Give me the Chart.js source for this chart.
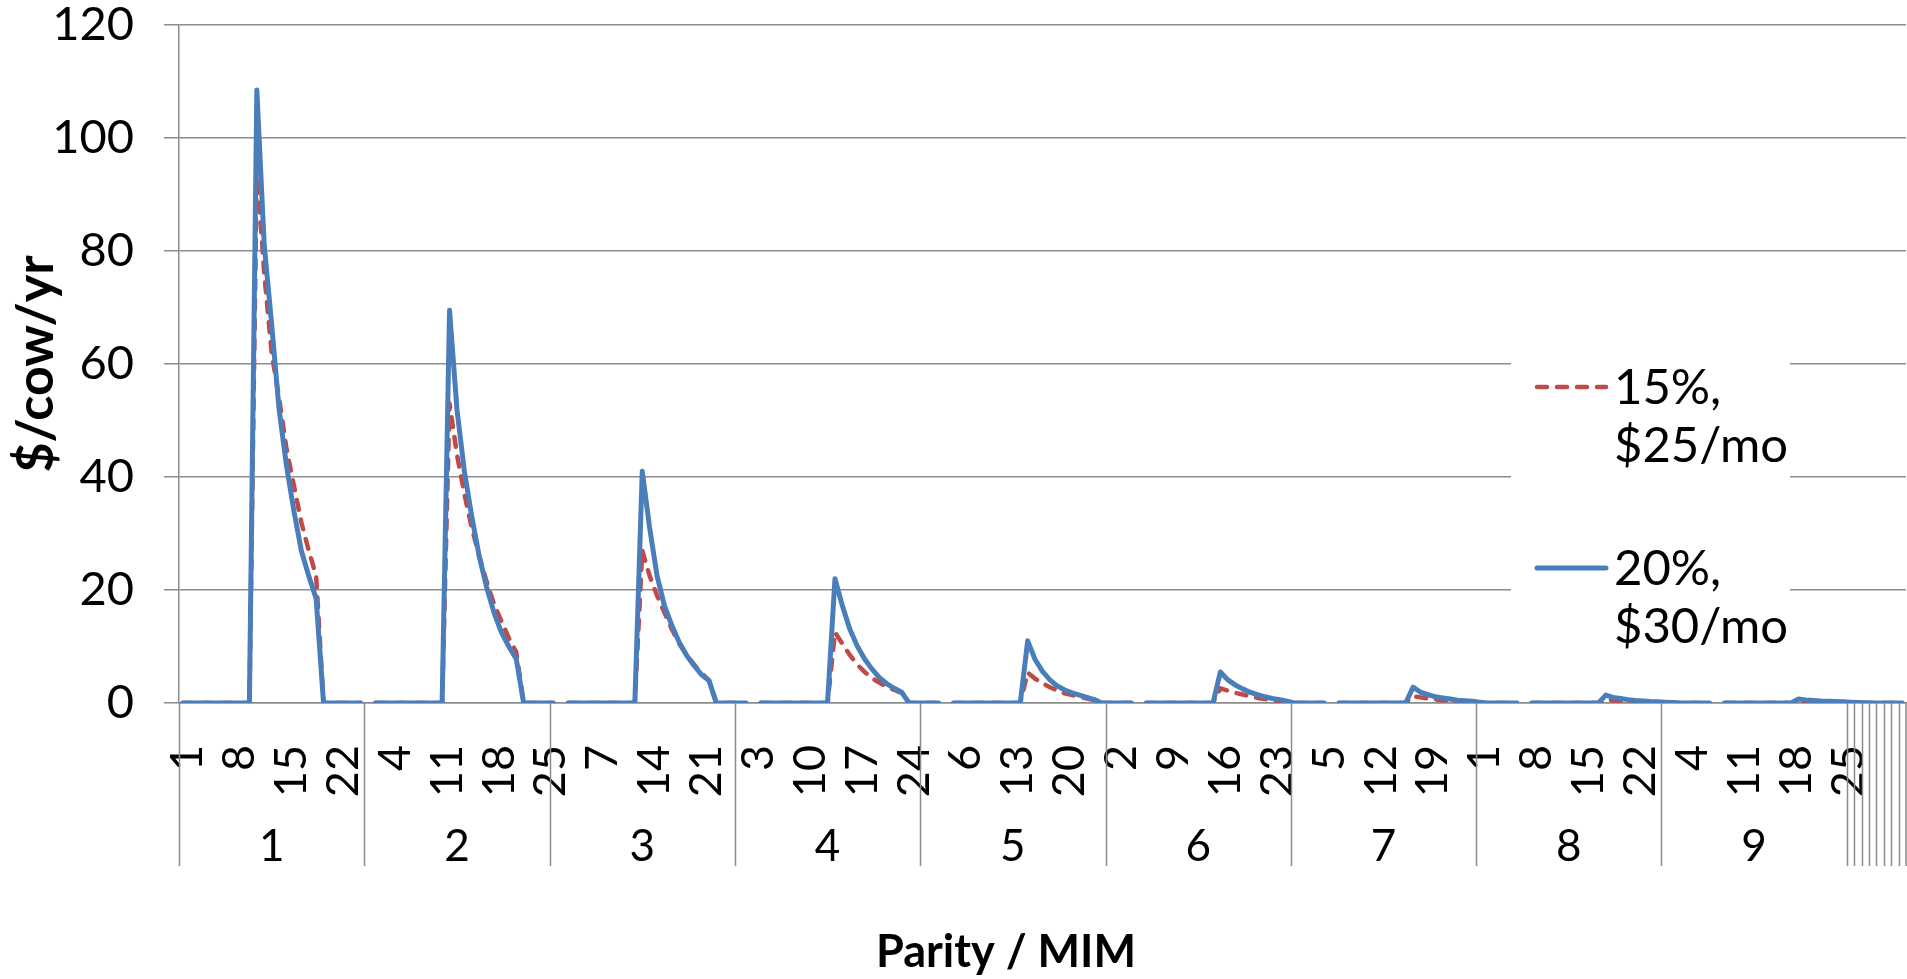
<!DOCTYPE html>
<html>
<head>
<meta charset="utf-8">
<script src="https://cdn.jsdelivr.net/npm/chart.js@4.4.0/dist/chart.umd.min.js"></script>
<style>
  html, body { margin: 0; padding: 0; background: #fff; }
  #wrap { width: 1907px; height: 979px; }
</style>
</head>
<body>
<div id="wrap"><canvas id="chart" width="1907" height="979"></canvas></div>
<script>
// parity groups on the lower axis, months in milk (MIM) on the upper one
const parities = ['1', '2', '3', '4', '5', '6', '7', '8', '9'];
const monthsPerParity = 25;
const blankSlots = 8;      // empty categories after parity 9
const tickEvery = 7;       // Excel shows every 7th MIM label

// $/cow/yr by MIM, one row per parity (15%, $25/mo)
const redRows = [
  [0,0,0,0,0,0,0,0,0,0, 95,76,62,54,45,38.5,32,27,22.5,0, 0,0,0,0,0],
  [0,0,0,0,0,0,0,0,0,0, 53,44,37,31,26,21.5,17.5,14.5,11.5,9, 0,0,0,0,0],
  [0,0,0,0,0,0,0,0,0,0, 27,22.5,19,16,13,10.5,8.5,6.8,5.3,4, 0,0,0,0,0],
  [0,0,0,0,0,0,0,0,0,0, 12.5,10.5,8.5,6.8,5.5,4.4,3.6,2.9,2.3,1.8, 0,0,0,0,0],
  [0,0,0,0,0,0,0,0,0,0, 5.4,4.3,3.5,2.8,2.2,1.7,1.4,1.1,0.8,0.5, 0,0,0,0,0],
  [0,0,0,0,0,0,0,0,0,0, 2.6,2.2,1.8,1.5,1.2,0.9,0.7,0.5,0.35,0.2, 0,0,0,0,0],
  [0,0,0,0,0,0,0,0,0,0, 1.2,1,0.8,0.65,0.5,0.4,0.3,0.2,0.15,0.1, 0,0,0,0,0],
  [0,0,0,0,0,0,0,0,0,0, 0.6,0.5,0.4,0.3,0.25,0.2,0.15,0.1,0.07,0.05, 0,0,0,0,0],
  [0,0,0,0,0,0,0,0,0,0, 0.3,0.25,0.2,0.15,0.12,0.1,0.08,0.06,0.04,0.02, 0,0,0,0,0]
];

// 20%, $30/mo
const blueRows = [
  [0,0,0,0,0,0,0,0,0,0, 108.5,81,67,52,42,34,27,22.5,18.5,0, 0,0,0,0,0],
  [0,0,0,0,0,0,0,0,0,0, 69.5,52,41,33,26,20.5,16,12.5,10,7.8, 0,0,0,0,0],
  [0,0,0,0,0,0,0,0,0,0, 41,31,22.5,17.2,13.7,10.7,8.4,6.6,5,4, 0,0,0,0,0],
  [0,0,0,0,0,0,0,0,0,0, 22,17.2,13.1,10.1,7.8,6,4.5,3.4,2.6,1.9, 0,0,0,0,0],
  [0,0,0,0,0,0,0,0,0,0, 11,7.7,5.6,4.1,3,2.3,1.8,1.4,1,0.6, 0,0,0,0,0],
  [0,0,0,0,0,0,0,0,0,0, 5.5,4.1,3.2,2.5,1.9,1.5,1.1,0.8,0.6,0.3, 0,0,0,0,0],
  [0,0,0,0,0,0,0,0,0,0, 2.8,1.9,1.5,1.1,0.9,0.7,0.5,0.4,0.3,0.15, 0,0,0,0,0],
  [0,0,0,0,0,0,0,0,0,0, 1.4,1,0.8,0.6,0.45,0.35,0.25,0.2,0.15,0.1, 0,0,0,0,0],
  [0,0,0,0,0,0,0,0,0,0, 0.7,0.55,0.45,0.35,0.3,0.25,0.2,0.15,0.1,0.05, 0,0,0,0,0]
];

const redLabel = ['15%,', '$25/mo'];
const blueLabel = ['20%,', '$30/mo'];
const xTitle = 'Parity / MIM';

const gridGray = '#8c8c8c';
const fontFamily = 'Lato, "Open Sans", sans-serif';

// category labels for both axis levels
const mimLabels = [];
const parityLabels = [];
parities.forEach(p => {
    for (let m = 1; m <= monthsPerParity; m++) {
        mimLabels.push(String(m));
        parityLabels.push(m === Math.ceil(monthsPerParity / 2) ? p : '');
    }
});
for (let i = 0; i < blankSlots; i++) {
    mimLabels.push('');
    parityLabels.push('');
}

// the sheet leaves an empty row after every parity, so the line breaks there
function buildSeries(rows) {
    const out = [];
    rows.forEach(r => { out.push(...r, null); });
    return out.slice(0, mimLabels.length);
}

// start of every group on the lower axis (each blank slot is its own group)
const groupStarts = [];
for (let i = 0; i <= parities.length * monthsPerParity; i += monthsPerParity) groupStarts.push(i);
for (let i = 1; i <= blankSlots; i++) groupStarts.push(parities.length * monthsPerParity + i);

const groupDividers = {
    id: 'groupDividers',
    afterDraw(chart) {
        const x = chart.scales.x;
        const x2 = chart.scales.x2;
        const c = chart.ctx;
        c.save();
        c.strokeStyle = gridGray;
        c.lineWidth = 1.5;
        c.beginPath();
        groupStarts.forEach(i => {
            const px = Math.min(Math.round(x.getPixelForValue(i - 0.5)) + 0.5, chart.width - 1);
            c.moveTo(px, x.top);
            c.lineTo(px, x2.top + 48);
        });
        c.stroke();
        // Excel centres the axis title a bit left of the plot centre
        c.fillStyle = '#000';
        c.font = 'bold 45px ' + fontFamily;
        c.textAlign = 'center';
        c.textBaseline = 'middle';
        c.fillText(xTitle, 1006, 952);
        c.restore();
    }
};

// Excel-style legend floating over the plot on a white box
const boxLegend = {
    id: 'boxLegend',
    afterDraw(chart) {
        const c = chart.ctx;
        const left = 1511, top = 338, width = 279, height = 322;
        const rowGap = 181, lineGap = 58;
        c.save();
        c.fillStyle = '#fff';
        c.fillRect(left, top, width, height);
        chart.data.datasets.forEach((ds, k) => {
            const y = 387 + k * rowGap;
            c.strokeStyle = ds.borderColor;
            c.lineWidth = ds.borderWidth;
            c.lineCap = 'round';
            c.setLineDash(ds.borderDash || []);
            c.beginPath();
            c.moveTo(left + 26, y);
            c.lineTo(left + 95, y);
            c.stroke();
            c.setLineDash([]);
            c.fillStyle = '#000';
            c.font = '49px ' + fontFamily;
            c.textBaseline = 'alphabetic';
            ds.label.forEach((t, j) => c.fillText(t, left + 103, y + 17 + j * lineGap));
        });
        c.restore();
    }
};

const ctx = document.getElementById('chart').getContext('2d');

new Chart(ctx, {
    type: 'line',
    data: {
        labels: mimLabels,
        datasets: [
            {
                label: redLabel,
                data: buildSeries(redRows),
                borderColor: '#be4b48',
                borderWidth: 4.5,
                borderDash: [10, 10],
                borderCapStyle: 'round',
                borderJoinStyle: 'round',
                pointRadius: 0,
                tension: 0,
                order: 2
            },
            {
                label: blueLabel,
                data: buildSeries(blueRows),
                borderColor: '#4a7ebb',
                borderWidth: 5,
                borderCapStyle: 'round',
                borderJoinStyle: 'round',
                pointRadius: 0,
                tension: 0,
                order: 1
            }
        ]
    },
    options: {
        responsive: false,
        animation: false,
        spanGaps: false,
        layout: { padding: { top: 25, right: 1, left: 0, bottom: 0 } },
        plugins: {
            legend: { display: false },
            tooltip: { enabled: false }
        },
        scales: {
            x: {
                type: 'category',
                offset: true,
                weight: 0,
                grid: { display: false, drawTicks: false },
                border: { color: gridGray, width: 1.5 },
                ticks: {
                    autoSkip: false,
                    minRotation: 90,
                    maxRotation: 90,
                    padding: 42,
                    labelOffset: 5,
                    color: '#000',
                    font: { family: fontFamily, size: 45 },
                    callback: (v, i) => (i % tickEvery === 0 ? mimLabels[i] : '')
                },
                afterFit(scale) {
                    scale.height = 115;
                    scale.paddingLeft = 0;
                    scale.paddingRight = 0;
                }
            },
            x2: {
                type: 'category',
                labels: parityLabels,
                position: 'bottom',
                offset: true,
                weight: 1,
                grid: { display: false, drawTicks: false },
                border: { display: false },
                ticks: {
                    autoSkip: false,
                    minRotation: 0,
                    maxRotation: 0,
                    padding: 2,
                    color: '#000',
                    font: { family: fontFamily, size: 44 }
                },
                afterFit(scale) {
                    scale.height = 161;
                    scale.paddingLeft = 0;
                    scale.paddingRight = 0;
                }
            },
            y: {
                min: 0,
                max: 120,
                ticks: {
                    stepSize: 20,
                    padding: 30,
                    color: '#000',
                    font: { family: fontFamily, size: 47 }
                },
                grid: { color: gridGray, lineWidth: 1.5, tickLength: 15 },
                border: { color: gridGray, width: 1.5 },
                title: {
                    display: true,
                    text: '$/cow/yr',
                    color: '#000',
                    font: { family: fontFamily, size: 52, weight: 'bold' },
                    padding: { top: 5, bottom: 0 }
                },
                afterFit(scale) {
                    scale.width = 179;
                    scale.paddingTop = 0;
                    scale.paddingBottom = 0;
                }
            }
        }
    },
    plugins: [groupDividers, boxLegend]
});
</script>
</body>
</html>
